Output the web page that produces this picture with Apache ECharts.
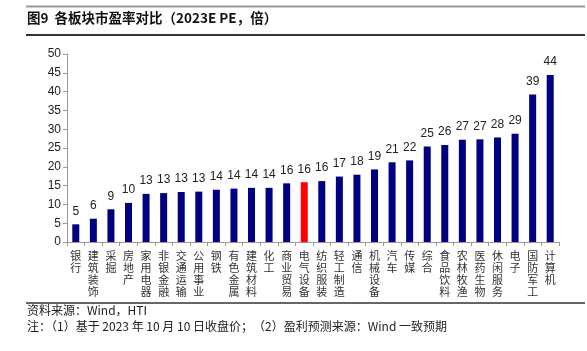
<!DOCTYPE html>
<html>
<head>
<meta charset="utf-8">
<script src="https://cdn.jsdelivr.net/npm/echarts@6/dist/echarts.min.js"></script>
<style>
  html, body { margin: 0; padding: 0; background: #fff; }
  #chart { width: 587px; height: 351px; }
</style>
</head>
<body>
<div id="chart"></div>
<script>
// 各板块 2023E PE
var sectors = ["银行", "建筑装饰", "采掘", "房地产", "家用电器", "非银金融", "交通运输", "公用事业",
  "钢铁", "有色金属", "建筑材料", "化工", "商业贸易", "电气设备", "纺织服装", "轻工制造", "通信",
  "机械设备", "汽车", "传媒", "综合", "食品饮料", "农林牧渔", "医药生物", "休闲服务", "电子",
  "国防军工", "计算机"];
var peValues = [4.7, 6.2, 8.7, 10.4, 12.8, 13.0, 13.3, 13.4, 13.9, 14.2, 14.4, 14.4, 15.6, 15.9,
  16.2, 17.4, 17.9, 19.3, 21.2, 21.7, 25.4, 25.8, 27.2, 27.3, 27.8, 28.8, 39.2, 44.4];
var highlight = "电气设备";
var yTicks = [0, 5, 10, 15, 20, 25, 30, 35, 40, 45, 50];

var cjk = "'Noto Sans CJK SC', sans-serif";
var myChart = echarts.init(document.getElementById("chart"));

var barData = [];
for (var i = 0; i < sectors.length; i++) {
  barData.push({
    value: peValues[i],
    itemStyle: { color: sectors[i] === highlight ? "#FF0000" : "#000080" }
  });
}

var option = {
  animation: false,
  grid: { left: 67, right: 28, top: 54, bottom: 109 },
  graphic: [
    { type: "line", shape: { x1: 26, y1: 6.5, x2: 585, y2: 6.5 }, style: { stroke: "#999", lineWidth: 2 } },
    { type: "line", shape: { x1: 26, y1: 35, x2: 585, y2: 35 }, style: { stroke: "#333", lineWidth: 2 } },
    { type: "text", left: 27, top: 11,
      style: { text: "图9  各板块市盈率对比（2023E PE，倍）", font: "bold 13.5px " + cjk, fill: "#111" } },
    { type: "line", shape: { x1: 26, y1: 303, x2: 585, y2: 303 }, style: { stroke: "#333", lineWidth: 1.5 } },
    { type: "text", left: 27, top: 304,
      style: { text: "资料来源：Wind，HTI", font: "12px " + cjk, fill: "#222" } },
    { type: "text", left: 27, top: 320,
      style: { text: "注：（1）基于 2023 年 10 月 10 日收盘价；（2）盈利预测来源：Wind 一致预期", font: "12px " + cjk, fill: "#222" } }
  ],
  xAxis: {
    type: "category",
    data: sectors,
    axisLine: { lineStyle: { color: "#999" } },
    axisTick: { show: true, length: 4, lineStyle: { color: "#999" } },
    axisLabel: {
      interval: 0,
      margin: 8,
      color: "#333",
      fontFamily: cjk,
      fontSize: 11,
      lineHeight: 12,
      verticalAlign: "top",
      formatter: function (v) { return v.split("").join("\n"); }
    }
  },
  yAxis: {
    type: "value",
    min: yTicks[0],
    max: yTicks[yTicks.length - 1],
    interval: yTicks[1] - yTicks[0],
    splitLine: { show: false },
    axisLine: { show: true, lineStyle: { color: "#999" } },
    axisTick: { show: true, length: 4, lineStyle: { color: "#999" } },
    axisLabel: { color: "#222", fontFamily: "'Liberation Sans', Arial", fontSize: 12, margin: 6 }
  },
  series: [{
    type: "bar",
    data: barData,
    barWidth: 7,
    label: {
      show: true,
      position: "top",
      distance: 7,
      color: "#222",
      fontFamily: "'Liberation Sans', Arial",
      fontSize: 12,
      formatter: function (p) { return Math.round(p.value); }
    }
  }]
};
myChart.setOption(option);
</script>
</body>
</html>
